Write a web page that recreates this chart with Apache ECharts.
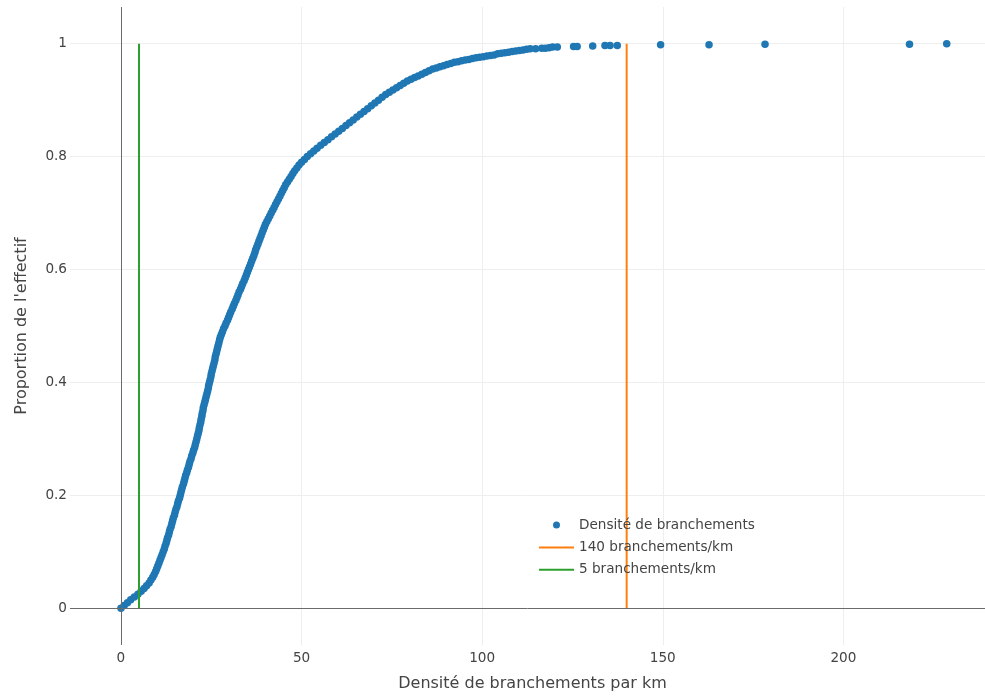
<!DOCTYPE html>
<html>
<head>
<meta charset="utf-8">
<script src="https://cdn.jsdelivr.net/npm/echarts@6/dist/echarts.min.js"></script>
<style>html,body{margin:0;padding:0;background:#fff}#c{width:985px;height:697px}</style>
</head>
<body>
<div id="c"></div>
<script>
const xTicks = [0, 50, 100, 150, 200];
const yTicks = [0, 0.2, 0.4, 0.6, 0.8, 1];
const seriesNames = ['Densité de branchements', '140 branchements/km', '5 branchements/km'];
const seuilHaut = [[140, 0], [140, 1]];
const seuilBas = [[5, 0], [5, 1]];
// ECDF points: [densité, proportion]
const densite = [
[0.0,0.000],[0.9,0.005],[1.8,0.010],[2.7,0.015],[3.7,0.020],[4.7,0.025],[5.6,0.030],[6.4,0.035],[7.1,0.040],[7.8,0.045],
[8.3,0.050],[8.8,0.055],[9.2,0.060],[9.6,0.065],[9.9,0.070],[10.2,0.075],[10.5,0.080],[10.8,0.085],[11.1,0.090],[11.4,0.095],
[11.7,0.100],[12.0,0.105],[12.2,0.110],[12.5,0.115],[12.7,0.120],[12.9,0.125],[13.2,0.130],[13.4,0.135],[13.6,0.140],[13.9,0.145],
[14.1,0.150],[14.3,0.155],[14.5,0.160],[14.8,0.165],[15.0,0.170],[15.2,0.175],[15.5,0.180],[15.7,0.185],[15.9,0.190],[16.2,0.195],
[16.4,0.200],[16.6,0.205],[16.8,0.210],[17.0,0.215],[17.3,0.220],[17.5,0.225],[17.7,0.230],[17.9,0.235],[18.2,0.240],[18.4,0.245],
[18.7,0.250],[18.9,0.255],[19.1,0.260],[19.4,0.265],[19.6,0.270],[19.9,0.275],[20.1,0.280],[20.4,0.285],[20.6,0.290],[20.8,0.295],
[21.0,0.300],[21.2,0.305],[21.4,0.310],[21.6,0.315],[21.7,0.320],[21.9,0.325],[22.1,0.330],[22.2,0.335],[22.4,0.340],[22.5,0.345],
[22.7,0.350],[22.8,0.355],[23.0,0.360],[23.2,0.365],[23.4,0.370],[23.6,0.375],[23.8,0.380],[24.0,0.385],[24.2,0.390],[24.3,0.395],
[24.5,0.400],[24.7,0.405],[24.9,0.410],[25.0,0.415],[25.2,0.420],[25.4,0.425],[25.6,0.430],[25.8,0.435],[26.0,0.440],[26.1,0.445],
[26.3,0.450],[26.5,0.455],[26.7,0.460],[26.9,0.465],[27.1,0.470],[27.3,0.475],[27.5,0.480],[27.8,0.485],[28.1,0.490],[28.4,0.495],
[28.8,0.500],[29.1,0.505],[29.5,0.510],[29.8,0.515],[30.1,0.520],[30.4,0.525],[30.8,0.530],[31.1,0.535],[31.4,0.540],[31.8,0.545],
[32.1,0.550],[32.4,0.555],[32.7,0.560],[33.1,0.565],[33.4,0.570],[33.7,0.575],[34.1,0.580],[34.4,0.585],[34.7,0.590],[35.0,0.595],
[35.3,0.600],[35.6,0.605],[35.9,0.610],[36.2,0.615],[36.5,0.620],[36.8,0.625],[37.1,0.630],[37.3,0.635],[37.6,0.640],[37.9,0.645],
[38.2,0.650],[38.5,0.655],[38.8,0.660],[39.1,0.665],[39.4,0.670],[39.7,0.675],[40.0,0.680],[40.4,0.685],[40.8,0.690],[41.2,0.695],
[41.6,0.700],[42.0,0.705],[42.4,0.710],[42.8,0.715],[43.2,0.720],[43.6,0.725],[44.0,0.730],[44.4,0.735],[44.8,0.740],[45.2,0.745],
[45.6,0.750],[46.1,0.755],[46.6,0.760],[47.1,0.765],[47.6,0.770],[48.1,0.775],[48.7,0.780],[49.3,0.785],[50.0,0.790],[50.8,0.795],
[51.6,0.800],[52.5,0.805],[53.4,0.810],[54.3,0.815],[55.3,0.820],[56.3,0.825],[57.3,0.830],[58.3,0.835],[59.3,0.840],[60.3,0.845],
[61.3,0.850],[62.3,0.855],[63.3,0.860],[64.3,0.865],[65.3,0.870],[66.3,0.875],[67.3,0.880],[68.3,0.885],[69.3,0.890],[70.3,0.895],
[71.3,0.900],[72.3,0.905],[73.3,0.910],[74.3,0.914],[75.3,0.918],[76.3,0.922],[77.3,0.926],[78.3,0.930],[79.3,0.934],[80.3,0.937],
[81.3,0.940],[82.3,0.943],[83.3,0.946],[84.3,0.949],[85.3,0.952],[86.3,0.955],[87.3,0.957],[88.3,0.959],[89.3,0.961],[90.3,0.963],
[91.3,0.965],[92.3,0.967],[93.3,0.968],[94.3,0.970],[95.3,0.971],[96.3,0.972],[97.3,0.974],[98.3,0.975],[99.3,0.976],[100.3,0.977],
[101.3,0.978],[102.3,0.979],[103.3,0.980],[104.3,0.982],[105.3,0.983],[106.3,0.984],[107.3,0.985],[108.3,0.986],[109.3,0.987],[110.3,0.988],
[111.3,0.989],[112.3,0.990],[113.3,0.991],[114.8,0.991],[116.5,0.992],[117.5,0.992],[118.5,0.993],[119.5,0.994],[120.8,0.994],[125.3,0.995],
[126.3,0.995],[130.6,0.996],[134.0,0.997],[135.4,0.997],[137.4,0.997],[149.4,0.998],[162.8,0.998],[178.3,0.999],[218.3,0.999],[228.6,1.000]
];

const font = 'Verdana, "DejaVu Sans", sans-serif';
const chart = echarts.init(document.getElementById('c'));
const hiddenDot = { color: 'rgba(0,0,0,0)', borderWidth: 0, opacity: 0 };
const option = {
  animation: false,
  backgroundColor: '#fff',
  textStyle: { fontFamily: font },
  grid: { left: 70, right: 0, top: 7, bottom: 47, containLabel: false },
  xAxis: {
    type: 'value', min: -14.1, max: 239.2,
    name: 'Densité de branchements par km', nameLocation: 'middle', nameGap: 31,
    nameTextStyle: { fontFamily: font, fontSize: 16, color: '#444', padding: [0, 0, 0, 10] },
    axisLine: { show: false },
    axisTick: { show: false, customValues: xTicks },
    axisLabel: { customValues: xTicks, margin: 6, fontFamily: font, fontSize: 13.6, color: '#444' },
    splitLine: { show: true, lineStyle: { color: '#eee', width: 1 } }
  },
  yAxis: {
    type: 'value', min: -0.065, max: 1.065,
    name: "Proportion de l'effectif", nameLocation: 'middle', nameGap: 40,
    nameTextStyle: { fontFamily: font, fontSize: 16, color: '#444' },
    axisLine: { show: false },
    axisTick: { show: false, customValues: yTicks },
    axisLabel: { customValues: yTicks, margin: 3, fontFamily: font, fontSize: 13.6, color: '#444' },
    splitLine: { show: true, lineStyle: { color: '#eee', width: 1 } }
  },
  legend: {
    orient: 'vertical', left: 533, top: 513, itemWidth: 35, itemHeight: 7, itemGap: 8.4,
    textStyle: { fontFamily: font, fontSize: 13.6, color: '#444' },
    data: [
      { name: seriesNames[0] },
      { name: seriesNames[1], itemStyle: hiddenDot },
      { name: seriesNames[2], itemStyle: hiddenDot }
    ]
  },
  series: [
    {
      type: 'line', data: [], silent: true,
      markLine: {
        silent: true, symbol: 'none', label: { show: false }, animation: false,
        lineStyle: { color: '#6b6b6b', width: 1, type: 'solid' },
        data: [{ xAxis: 0 }, { yAxis: 0 }]
      }
    },
    {
      name: seriesNames[0], type: 'scatter', data: densite, symbolSize: 7.5,
      itemStyle: { color: '#1f77b4', opacity: 1 }
    },
    {
      name: seriesNames[1], type: 'line', data: seuilHaut, symbol: 'none',
      lineStyle: { color: '#ff7f0e', width: 2 }, itemStyle: { color: '#ff7f0e' }
    },
    {
      name: seriesNames[2], type: 'line', data: seuilBas, symbol: 'none',
      lineStyle: { color: '#2ca02c', width: 2 }, itemStyle: { color: '#2ca02c' }
    }
  ]
};
chart.setOption(option);
</script>
</body>
</html>
